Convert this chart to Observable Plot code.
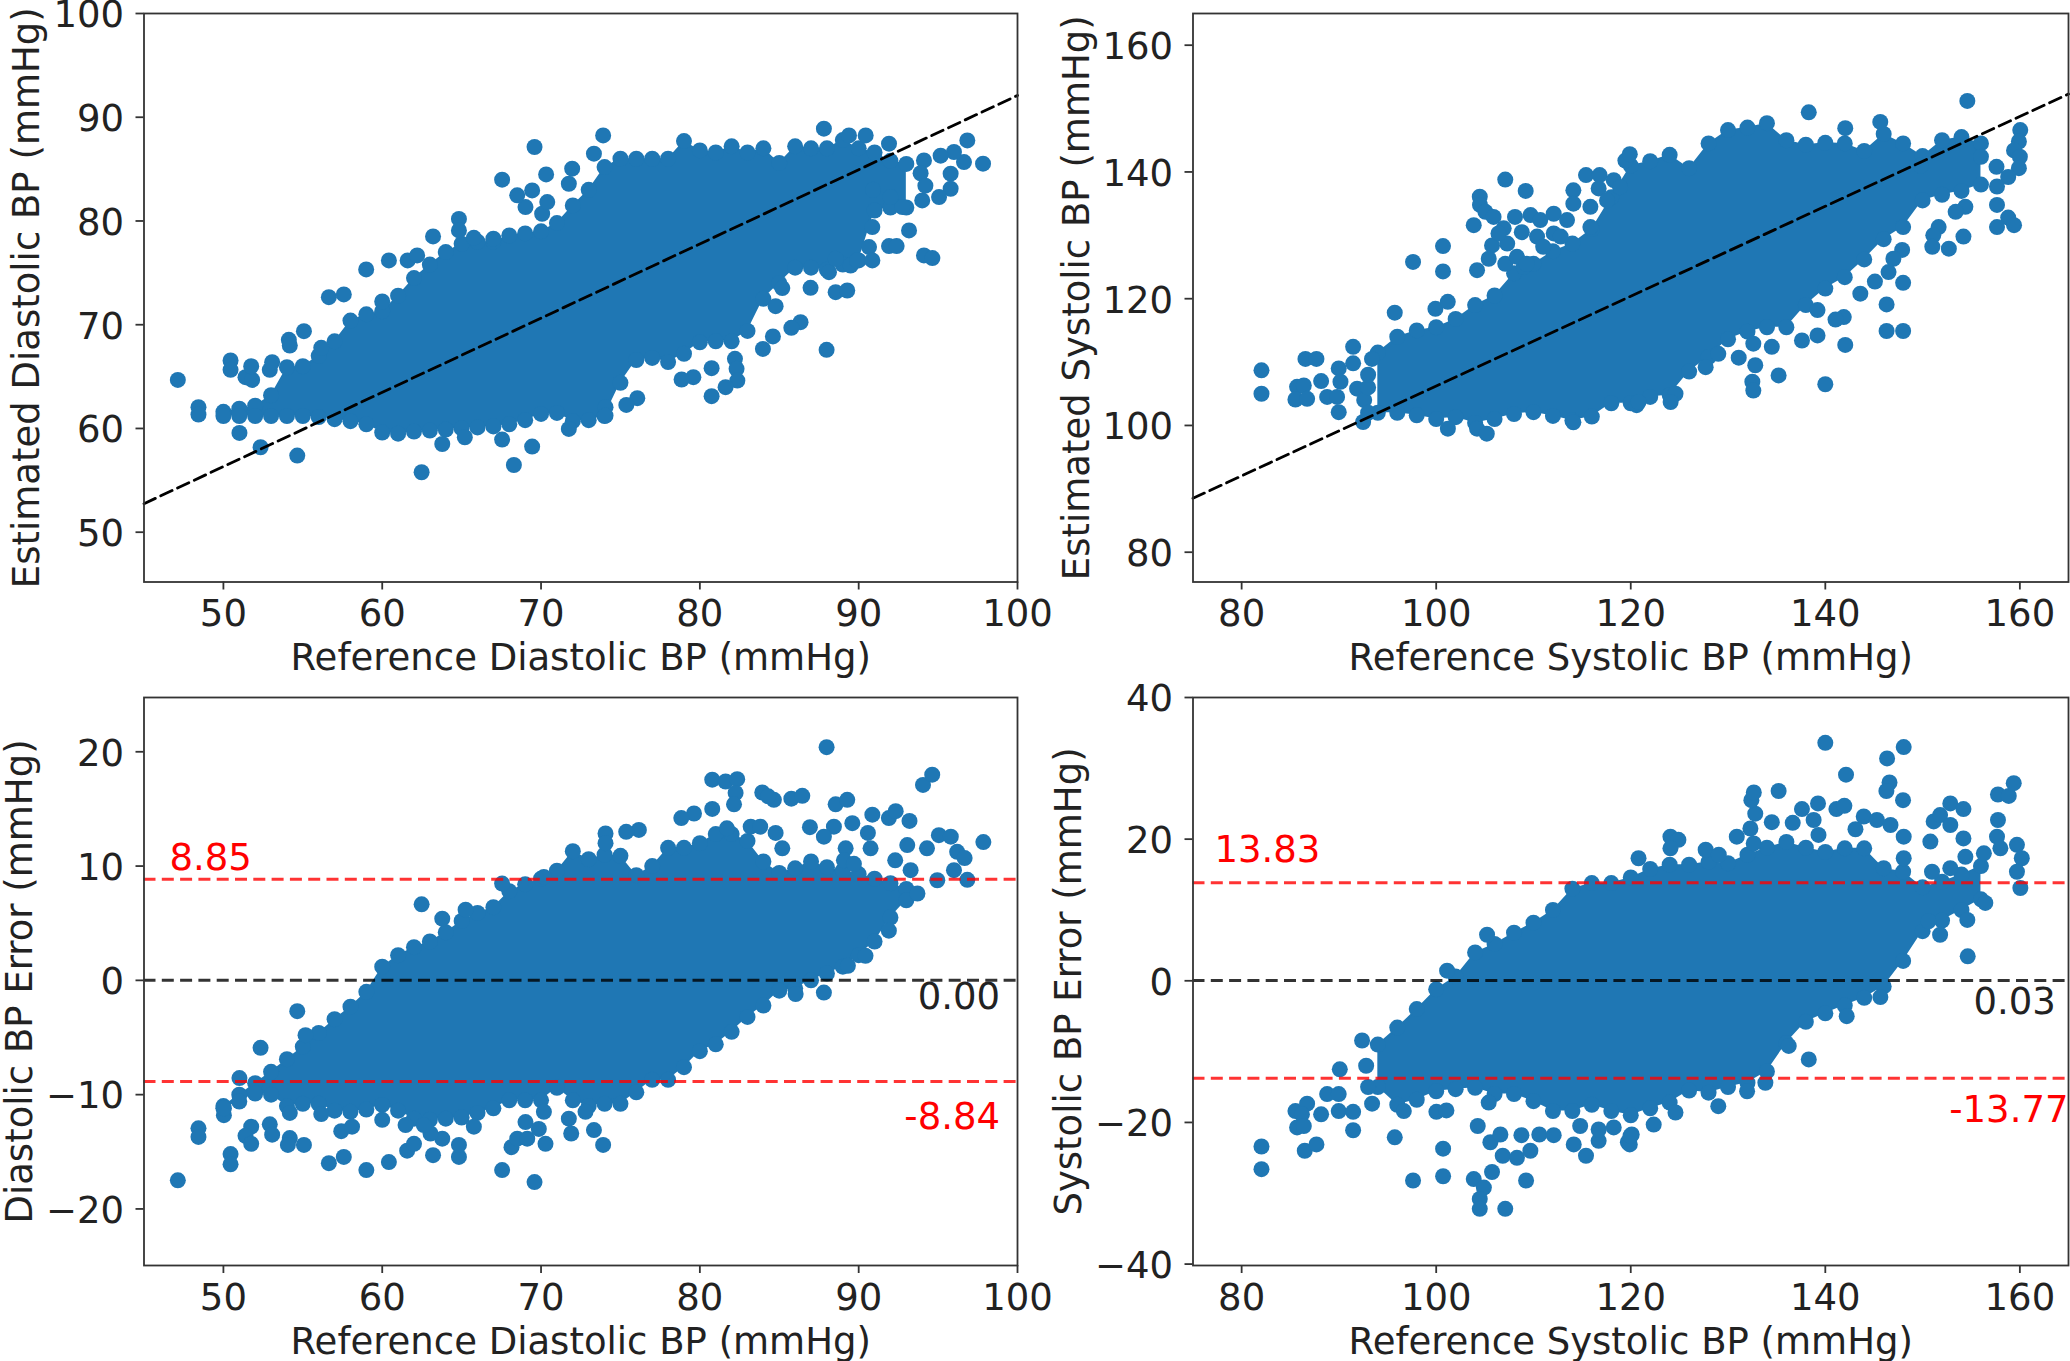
<!DOCTYPE html>
<html><head><meta charset="utf-8">
<script src="https://cdn.jsdelivr.net/npm/d3@7"></script>
<script src="https://cdn.jsdelivr.net/npm/@observablehq/plot@0.6"></script>
<style>html,body{margin:0;padding:0;background:#fff}#c{position:relative;width:2070px;height:1361px;overflow:hidden}#c svg{position:absolute;overflow:visible}</style>
</head><body><div id="c"></div>
<script>
const blue="#1f77b4";
// Reference diastolic grid for the dense band, with its read-off band edges
const diaX=[50,51,52,53,54,55,56,57,58,59,60,61,62,63,64,65,66,67,68,69,70,71,72,73,74,75,76,77,78,79,80,81,82,83,84,85,86,87,88,89,90,91,92,93];
const diaEstHi=[61.6,61.9,62.2,63.2,65.9,66,67,68.4,70.4,71,71.3,72.8,74.5,75.8,77,77.8,78,78,78.6,78.8,79,79.8,81.5,83,85.2,86,86,86,86,87.7,86.8,86.6,87.2,86.6,87,85.6,87.2,87,87,87.8,87,86.6,85.8,85.5];
const diaEstLo=[61.2,61.2,61.2,61.2,61.2,61.2,61.1,60.9,60.7,60.4,59.6,59.5,59.7,59.8,59.9,60,60.1,60.2,60.4,60.8,61.4,61.5,60.7,60.8,61.2,64.4,66.6,66.8,66.4,67.2,68.3,68.4,68.4,69.4,72.5,74,75.5,75.5,75.3,75.8,76.2,81,81.3,81.3];
const diaEstDots=[[47.13,64.68],[48.43,62.05],[48.43,61.34],[50.45,66.55],[50.45,65.65],[51.39,64.94],[51.81,64.68],[51.75,66],[52.92,65.65],[53.07,66.39],[54.12,68.54],[54.18,68],[55.07,69.38],[51.01,59.57],[52.34,58.19],[54.65,57.39],[56.16,67.77],[56.64,72.66],[57.58,72.92],[58.99,75.33],[60.42,76.2],[60,72.24],[61.6,76.2],[62.2,76.68],[63.78,58.5],[62.48,55.78],[65.2,59.15],[67.55,58.93],[69.44,58.25],[68.29,56.48],[71.75,59.96],[67.55,83.98],[69.59,87.13],[70.32,84.49],[73.91,88.25],[73.33,86.49],[71.96,85.04],[71.75,83.59],[70.07,80.7],[69.02,81.34],[70.39,81.82],[69.44,82.95],[68.5,82.47],[64.83,80.2],[64.83,79.09],[63.2,78.51],[65.77,78.38],[67,78.29],
[87.81,88.9],[89.39,88.25],[90.44,88.25],[91.91,87.45],[96.84,87.77],[97.83,85.52],[96.63,85.68],[96,86.65],[95.16,86.3],[94.11,85.84],[95.79,84.56],[95.79,83.11],[95.06,82.3],[94,81.98],[92.75,81.34],[93.17,79.09],[90.86,79.41],[90.65,77.48],[90.86,76.2],[91.91,77.58],[92.39,77.58],[94.11,76.68],[94.64,76.42],[89.49,75.71],[89.9,76.2],[88.13,75.07],[88.55,76.36],[86.97,73.56],[88.55,73.14],[89.28,73.3],[84.77,71.79],[85.19,73.53],[86.34,70.25],[85.76,69.7],[84.6,68.87],[83.97,67.67],[87.98,67.58],[82.21,66.71],[82.31,65.75],[82.36,64.62],[81.62,63.98],[80.74,63.11],[80.74,65.81],[79.59,64.94],[78.85,64.72],[76.06,62.92],[75.37,62.27],[74.06,62.05],[74.06,61.24],[90.9,83],[92,82.3],[93.9,84.6],[94.2,83.4]];
const diaErrHi=[-11,-10,-9,-8,-6.9,-5.8,-4.6,-3.4,-2.3,-1,1.2,2.2,2.9,3.4,4.2,5.2,5.9,6.4,7.8,8.4,8.9,9.6,11.3,10.6,11,10.9,9.2,10,11.6,11.6,12,12.8,12.8,12.2,10.4,9.4,9.8,10.4,9.9,9.6,9.3,8.9,8.5,8];
const diaErrLo=[-11.2,-10.6,-9.9,-10,-11,-10.8,-10.8,-11.4,-11.5,-11.3,-10.9,-11.4,-12.1,-12.2,-12.1,-12,-11.6,-11.2,-10.5,-10.5,-10.5,-9.4,-10.5,-11,-10.8,-10.8,-9.8,-8.7,-8.7,-7.6,-6.2,-5.6,-4.5,-3.2,-2.2,-0.9,-0.7,0,0.6,1.2,2.2,3.4,5.5,7];
const diaErrDots=[[47.13,-17.5],[48.43,-12.95],[48.43,-13.7],[50.45,-15.2],[50.45,-16.1],[50.03,-11.8],[50.03,-11.2],[51.75,-12.8],[51.39,-13.6],[51.75,-14.3],[52.92,-12.6],[53.07,-13.5],[54.18,-13.8],[54.06,-14.4],[55.07,-14.4],[54.18,-11.6],[56.16,-11.7],[56.64,-16],[57.58,-15.45],[57.42,-13.2],[58.1,-12.8],[59,-16.6],[60.42,-15.9],[60,-12.2],[61.47,-12.66],[61.57,-14.9],[62,-14.3],[63.2,-15.3],[64.83,-15.45],[64.83,-14.4],[67.55,-16.6],[69.59,-17.65],[68.14,-14.6],[68.5,-13.85],[69.13,-13.85],[70.28,-14.3],[69.02,-12.4],[69.86,-13],[70.18,-11.5],[71.75,-12.1],[71.9,-13.4],[73.33,-13.1],[73.91,-14.4],[72.8,-11.5],[65.77,-12.8],[63.78,-13.85],[63.04,-13.4],[62.62,-12.66],[62.48,6.65],[63.78,5.4],[65.25,6.18],[54.65,-2.7],[52.34,-5.9],[51.01,-8.55],[55.17,-4.8],[67.55,8.47],[70.18,9.05],
[87.98,20.4],[80.78,17.56],[81.62,17.4],[82.35,17.6],[82.25,16.4],[82.15,15.4],[80.78,15],[79.63,14.6],[78.83,14.2],[76.16,13.16],[75.36,13],[74.06,12.86],[74.06,12],[83.93,16.44],[84.66,15.8],[84.3,16.1],[85.76,15.9],[86.45,16.15],[88.55,15.4],[89.28,15.8],[90.86,14.5],[91.9,14.2],[92.33,14.8],[93.2,13.95],[94.05,17.1],[94.63,18],[97.85,12.1],[86.93,13.4],[89.6,13.75],[88.44,13.45],[87.81,12.57],[90.58,12.9],[84.77,12.9],[85.19,11.55],[90.75,11.55],[89.18,11.55],[89.07,10.5],[89.7,10.2],[95.05,12.7],[95.8,12.57],[93.06,11.84],[94.3,11.55],[96.2,11.25],[96.67,10.7],[92.3,10.5],[93.27,9.64],[96,9.64],[96.84,8.8],[94.95,8.76],[93.7,7.6],[91.9,4.35],[90.43,2.15],[89.32,1.27],[87.81,-1.07],[86.03,-1.2],[83.2,13.45],[83.8,13.45],[81.7,13.3]];
// Reference systolic grid
const sysX=[94,96,98,100,102,104,106,108,110,112,114,116,118,120,122,124,126,128,130,132,134,136,138,140,142,144,146,148,150,152,154,156];
const sysEstHi=[111.5,114,115,115.5,116.8,119,120.5,124,125.5,127.5,128.7,131,136,141,141.7,142.7,140.6,144.5,146.6,147,147.7,145,144.3,144.6,144.5,143.3,146,144.5,142.5,145,145.5,144.5];
const sysEstLo=[102,102,101.6,101,101.3,100.4,101,101.8,102.1,101.5,100.8,101.4,103.5,103.5,104.5,104.8,108.5,110.8,113.6,114.8,115.5,115.5,119,121.6,123.4,126.2,129.4,131.3,135.5,136.4,137,138];
const sysEstDots=[[82.04,108.7],[82.04,105],[86.56,110.5],[87.69,110.5],[91.46,112.4],[91.46,109.8],[89.98,109],[88.17,107],[85.7,106.1],[86.39,106.3],[85.53,104.1],[86.73,104.2],[88.79,104.5],[89.98,102.1],[89.81,104.5],[90.16,106.9],[91.87,105.8],[92.49,100.55],[93.4,110.5],[92.6,104],[93,102],[93,106],[93,108],[95.74,117.8],[97.62,125.8],[100.7,128.3],[100.7,124.3],[99.92,118.4],[101.19,119.5],[104.2,124.5],[103.86,131.6],[104.48,136.1],[104.5,134.8],[107.1,138.8],[109.2,137],[105.06,133.7],[105.9,132.9],[106.94,131.1],[105.74,128.4],[105.4,126.3],[108.1,132.9],[109.7,133.2],[110.7,132.4],[108.8,130.5],[110.37,129.8],[112.08,133.4],[112.08,130.3],[114.1,137.1],[115.4,139.5],[116.8,139.5],[116.7,137.4],[118.25,138.7],[119.45,141.8],[119.9,142.8],[109,125],[107.1,125.5],[114.1,135],[115.85,134.5],[117.56,135.5],[113.45,132.4],[115.85,131.3],[118.9,137.6],[108.3,126.6],[111,128.2],[112.8,129.8],[107.3,128.7],[106.4,130.3],[109.3,125.5],[101.2,99.5],[104.2,99.5],[105.2,98.7],[114.1,100.5],[120.6,103.2],
[138.3,149.4],[142.05,146.9],[145.65,147.9],[154.6,151.2],[160.04,146.6],[159.9,144.8],[159.4,143.4],[160,142.4],[159.9,140.6],[158.8,139.2],[157.65,137.7],[157.65,134.8],[158.8,132.8],[159.4,131.6],[157.65,131.3],[154.4,134.5],[153.4,133.7],[154.2,129.8],[152.7,127.9],[151.65,131.3],[151.1,130],[151,128.2],[147.9,127.7],[147,126.3],[146.5,124.2],[148,122.5],[146.3,119.1],[146.3,114.9],[148,114.9],[145.1,122.7],[143.6,120.8],[141.9,117.1],[141.05,116.7],[142.05,112.7],[139.2,114.2],[137.6,113.4],[139.2,118.2],[134.5,112.4],[135.2,107.9],[140,106.5],[132.5,106.9],[132.6,105.5],[132.8,109.5],[131.1,110.7],[129,111.3],[127.7,109.2],[124.6,105],[124.1,103.7],[120.8,103.7],[132.6,112.9],[157.6,140.8],[156,142.4],[149.8,141]];
const sysErrHi=[-9,-6.6,-4,-1.2,0.6,4,5.2,6.8,8.2,10,13,13.8,13.8,14.6,15.8,16.4,16.4,16.8,16.6,17.8,18.8,19.6,18.8,18.2,18.7,18.7,15.9,15.4,13.2,14,15,16.2];
const sysErrLo=[-15,-17.5,-16.8,-15.6,-15.3,-15.1,-16,-16,-17,-18.4,-18.4,-17.5,-18.4,-19,-18,-17.2,-15.5,-15.8,-15,-14.4,-12.8,-8.8,-5.8,-4.6,-3.5,-2.4,-0.8,2.8,7,8.5,10,11.5];
const sysErrDots=[[82.04,-23.4],[82.04,-26.6],[86.49,-24],[87.69,-23.1],[85.53,-18.4],[86.73,-17.35],[86.2,-18.85],[85.7,-20.7],[86.39,-20.5],[88.17,-18.85],[88.79,-16],[89.98,-18.4],[91.46,-18.5],[91.46,-21.1],[90.09,-12.5],[89.98,-16],[92.38,-8.43],[93.41,-17.35],[92.8,-12],[93,-15],[95.74,-22.1],[96.67,-18.4],[97.62,-28.2],[100.02,-18.5],[101.05,-18.3],[100.71,-23.7],[100.71,-27.6],[103.86,-28],[104.9,-29.2],[105.74,-27],[104.48,-30.8],[104.48,-32.2],[107.1,-32.2],[109.24,-28.2],[104.27,-20.5],[105.57,-22.8],[106.84,-24.7],[108.3,-25],[109.68,-24],[108.76,-21.8],[106.6,-21.7],[110.6,-21.7],[112.08,-21.8],[114.14,-23.1],[115.4,-24.7],[116.7,-22.6],[116.7,-21],[118.25,-20.7],[119.7,-22.8],[120.1,-21.7],[122.36,-20.3],[114.8,-20.5],[105.4,-17.2],[105.23,6.5],[101.12,1.43],
[120.8,17.3],[124.08,20.35],[124.9,19.9],[124.08,18.7],[127.7,18.5],[129.05,17.8],[130.9,20.35],[132.3,21.5],[132.8,23.6],[132.4,25.5],[132.65,26.6],[135.2,26.8],[134.5,22.4],[132.64,19.4],[136.65,22.3],[137.6,24.25],[139.25,25.05],[138.8,22.7],[139.3,20.6],[140,33.6],[141.14,24.25],[141.96,24.7],[142.13,29.1],[146.35,31.4],[148.06,33],[146.6,28],[146.28,26.8],[147.99,25.5],[143.1,21.4],[143.95,23.2],[145.3,22.7],[146.7,22],[148.06,20.35],[150.8,19.65],[154.2,20.1],[151.14,22.5],[151.8,23.4],[152.85,25.05],[154.2,24.25],[152.85,22],[157.75,22.7],[157.75,26.3],[158.86,26.1],[159.37,27.9],[157.65,20.35],[159.7,19.2],[160.2,17.3],[159.7,15.4],[160.05,13.1],[154.4,17.5],[156.3,18],[150.97,15.4],[152.85,15.9],[158,18.7],[148.06,17.3],[156.45,11],[154.6,8.6],[151.8,6.5],[154.64,3.45],[150.6,8.4],[145.66,-2.3],[138.3,-11.1],[119.9,-23.1],[119.97,-21.9],[124.6,-18.6],[129,-17.7],[131.96,-15.6],[133.84,-14.4],[136.24,-9.2],[142.2,-5]];

const panels=[
 {left:0,top:0,w:1030,h:680,ml:143.5,mr:13,mt:13,mb:98.5,yo:131.5,xd:[45,100],yd:[45.2,100],xt:[50,60,70,80,90,100],yt:[50,60,70,80,90,100],xl:"Reference Diastolic BP (mmHg)",yl:"Estimated Diastolic BP (mmHg)",gx:diaX,hi:diaEstHi,lo:diaEstLo,dots:diaEstDots,diag:{x:[45,100],y:[52.75,92.1]}},
 {left:1040,top:0,w:1030,h:680,ml:152.5,mr:2,mt:13,mb:98.5,yo:130,xd:[75,165],yd:[75.3,165],xt:[80,100,120,140,160],yt:[80,100,120,140,160],xl:"Reference Systolic BP (mmHg)",yl:"Estimated Systolic BP (mmHg)",gx:sysX,hi:sysEstHi,lo:sysEstLo,dots:sysEstDots,diag:{x:[75,165],y:[88.5,152.3]}},
 {left:0,top:680,w:1030,h:681,ml:143.5,mr:13,mt:17,mb:96,yo:138,xd:[45,100],yd:[-24.95,24.75],xt:[50,60,70,80,90,100],yt:[-20,-10,0,10,20],xl:"Reference Diastolic BP (mmHg)",yl:"Diastolic BP Error (mmHg)",gx:diaX,hi:diaErrHi,lo:diaErrLo,dots:diaErrDots,
  rules:[[8.85,-8.84],[0]],labels:[{t:"8.85",x:46.6,y:10.7,a:"start",c:"red"},{t:"0.00",x:98.9,y:-1.5,a:"end",c:"#222"},{t:"-8.84",x:98.9,y:-12,a:"end",c:"red"}]},
 {left:1040,top:680,w:1030,h:681,ml:152.5,mr:2,mt:17,mb:96,yo:138.5,xd:[75,165],yd:[-40.2,40],xt:[80,100,120,140,160],yt:[-40,-20,0,20,40],xl:"Reference Systolic BP (mmHg)",yl:"Systolic BP Error (mmHg)",gx:sysX,hi:sysErrHi,lo:sysErrLo,dots:sysErrDots,
  rules:[[13.83,-13.77],[0.03]],labels:[{t:"13.83",x:77.2,y:18.4,a:"start",c:"red"},{t:"0.03",x:163.7,y:-2.96,a:"end",c:"#222"},{t:"-13.77",x:165,y:-18.3,a:"end",c:"red"}]}
];
const fs=37;
const box=document.getElementById("c");
for(const p of panels){
  const marks=[
    Plot.areaY(p.gx,{x:p.gx,y1:p.lo,y2:p.hi,fill:blue}),
    Plot.dot(p.gx,{x:p.gx,y:p.hi,r:8,fill:blue}),
    Plot.dot(p.gx,{x:p.gx,y:p.lo,r:8,fill:blue}),
    Plot.dot(p.dots,{x:d=>d[0],y:d=>d[1],r:8,fill:blue})
  ];
  if(p.diag) marks.push(Plot.line(p.diag.x,{x:p.diag.x,y:p.diag.y,stroke:"#000",strokeWidth:2.8,strokeDasharray:"12.5,6"}));
  if(p.rules){
    marks.push(Plot.ruleY(p.rules[1],{stroke:"#000",strokeWidth:3,strokeOpacity:.8,strokeDasharray:"12,6.3"}));
    marks.push(Plot.ruleY(p.rules[0],{stroke:"red",strokeWidth:3,strokeOpacity:.8,strokeDasharray:"12,6.3"}));
    for(const l of p.labels) marks.push(Plot.text([l.t],{x:[l.x],y:[l.y],text:d=>d,textAnchor:l.a,fill:l.c,fontSize:fs}));
  }
  marks.push(Plot.frame({stroke:"#333",strokeWidth:1.8}));
  marks.push(Plot.axisX({ticks:p.xt,tickSize:8,tickPadding:10,fontSize:fs,label:p.xl,labelAnchor:"center",labelArrow:"none",labelOffset:88,stroke:"#333",strokeWidth:1.8,fill:"#222",tickFormat:d=>d}));
  marks.push(Plot.axisY({ticks:p.yt,tickSize:8,tickFormat:()=>"",label:null,stroke:"#333",strokeWidth:1.8}));
  marks.push(Plot.axisY({ticks:p.yt,tickSize:0,tickPadding:20,dy:2,fontSize:fs,label:p.yl,labelAnchor:"center",labelArrow:"none",labelOffset:p.yo,fill:"#222"}));
  const svg=Plot.plot({width:p.w,height:p.h,marginLeft:p.ml,marginRight:p.mr,marginTop:p.mt,marginBottom:p.mb,
    x:{domain:p.xd},y:{domain:p.yd},style:{fontFamily:"DejaVu Sans",background:"transparent",overflow:"visible"},marks});
  svg.style.left=p.left+"px";svg.style.top=p.top+"px";
  box.appendChild(svg);
}
</script></body></html>
